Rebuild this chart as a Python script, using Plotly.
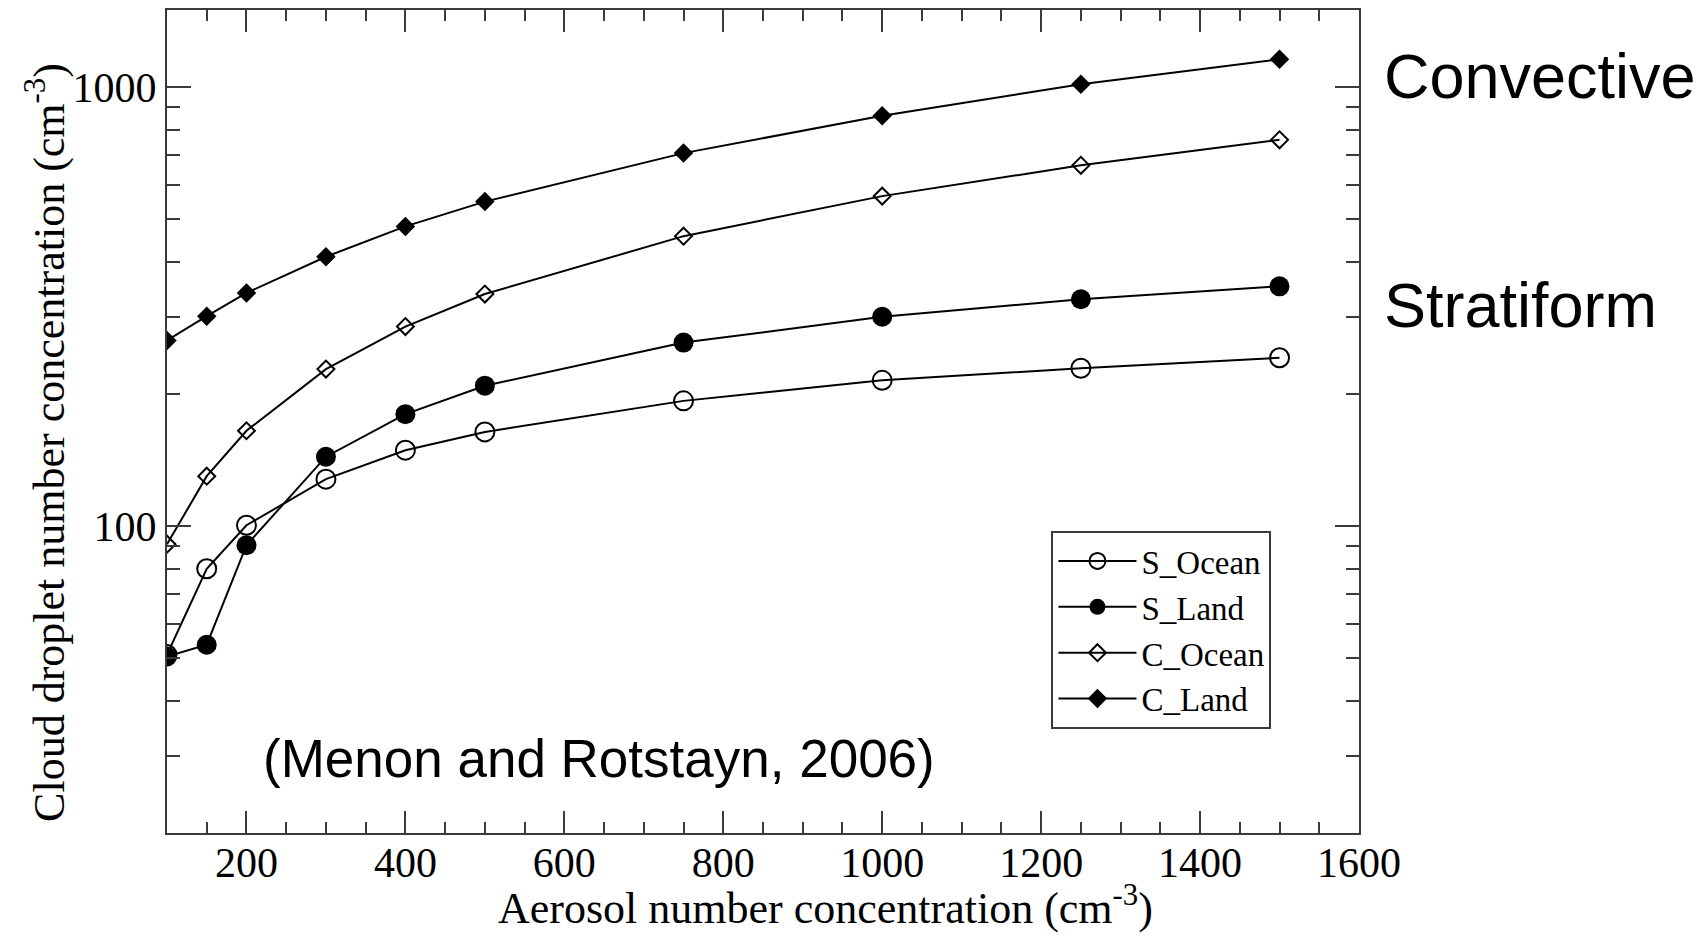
import plotly.graph_objects as go

aerosol = [100, 150, 200, 300, 400, 500, 750, 1000, 1250, 1500]
s_ocean = [51, 80, 100.5, 128, 149, 164, 193, 215, 229, 242]
s_land = [50.5, 53.7, 90.5, 144, 180, 209, 262, 300, 329, 352]
c_ocean = [91, 130, 165, 228, 285, 338, 458, 565, 664, 759]
c_land = [265, 301, 340, 411, 482, 549, 708, 861, 1016, 1158]

series_names = ["S_Ocean", "S_Land", "C_Ocean", "C_Land"]
x_ticks = [200, 400, 600, 800, 1000, 1200, 1400, 1600]
y_ticks = [100, 1000]
y_minor = [20, 30, 40, 50, 60, 70, 80, 90, 200, 300, 400, 500, 600, 700, 800, 900]

serif = "Liberation Serif, Times New Roman, serif"
sans = "Liberation Sans, Arial, sans-serif"
axcol = "#3a3a3a"

fig = go.Figure()
styles = [
    (s_ocean, dict(symbol="circle-open", size=19, color="black", line=dict(width=2, color="black"))),
    (s_land, dict(symbol="circle", size=20, color="black", line=dict(width=0))),
    (c_ocean, dict(symbol="diamond-open", size=13, color="black", line=dict(width=2, color="black"))),
    (c_land, dict(symbol="diamond", size=15, color="black", line=dict(width=0))),
]
for name, (vals, mk) in zip(series_names, styles):
    fig.add_trace(go.Scatter(
        x=aerosol, y=vals, name=name, mode="lines+markers",
        line=dict(color="black", width=2), marker=mk,
    ))

fig.update_layout(
    autosize=True,
    margin=dict(l=159, r=340, t=0, b=100),
    plot_bgcolor="white",
    paper_bgcolor="white",
    showlegend=True,
    legend=dict(
        x=0.742, y=0.367, xanchor="left", yanchor="top",
        font=dict(family=serif, size=33, color="black"),
        bordercolor=axcol, borderwidth=2, bgcolor="white",
        itemwidth=78, tracegroupgap=0,
    ),
    xaxis=dict(
        range=[100, 1600], tickvals=x_ticks,
        ticks="inside", ticklen=22, tickwidth=2, tickcolor=axcol,
        minor=dict(dtick=50, tick0=0, ticks="inside", ticklen=11, tickwidth=2, tickcolor=axcol),
        showline=True, linecolor=axcol, linewidth=2, mirror="ticks",
        showgrid=False, zeroline=False, ticklabelstandoff=-8,
        tickfont=dict(family=serif, size=42, color="black"),
    ),
    yaxis=dict(
        type="log", range=[1.30103, 3.1761], tickvals=y_ticks, ticktext=["100", "1000"],
        ticks="inside", ticklen=24, tickwidth=2, tickcolor=axcol,
        minor=dict(tickmode="array", tickvals=y_minor, ticks="inside", ticklen=13, tickwidth=2, tickcolor=axcol),
        showline=True, linecolor=axcol, linewidth=2, mirror="ticks",
        showgrid=False, zeroline=False,
        tickfont=dict(family=serif, size=42, color="black"),
    ),
)

# axis titles (placed as in the reference, slightly off-centre)
fig.add_annotation(text="Aerosol number concentration (cm<sup>-3</sup>)", xref="paper", yref="paper",
                   x=0.5526, y=-0.0875, xanchor="center", yanchor="middle", showarrow=False,
                   font=dict(family=serif, size=44, color="black"))
fig.add_annotation(text="Cloud droplet number concentration (cm<sup>-3</sup>)", xref="paper", yref="paper",
                   x=-0.1015, y=0.474, xanchor="center", yanchor="middle", showarrow=False,
                   textangle=-90, font=dict(family=serif, size=44, color="black"))

fig.add_annotation(text="Convective", xref="paper", yref="paper", x=1.019, y=0.92,
                   xanchor="left", yanchor="middle", showarrow=False,
                   font=dict(family=sans, size=63, color="black"))
fig.add_annotation(text="Stratiform", xref="paper", yref="paper", x=1.019, y=0.642,
                   xanchor="left", yanchor="middle", showarrow=False,
                   font=dict(family=sans, size=63, color="black"))
fig.add_annotation(text="(Menon and Rotstayn, 2006)", xref="paper", yref="paper", x=0.079, y=0.09,
                   xanchor="left", yanchor="middle", showarrow=False,
                   font=dict(family=sans, size=53, color="black"))

fig.write_html("out.html")
